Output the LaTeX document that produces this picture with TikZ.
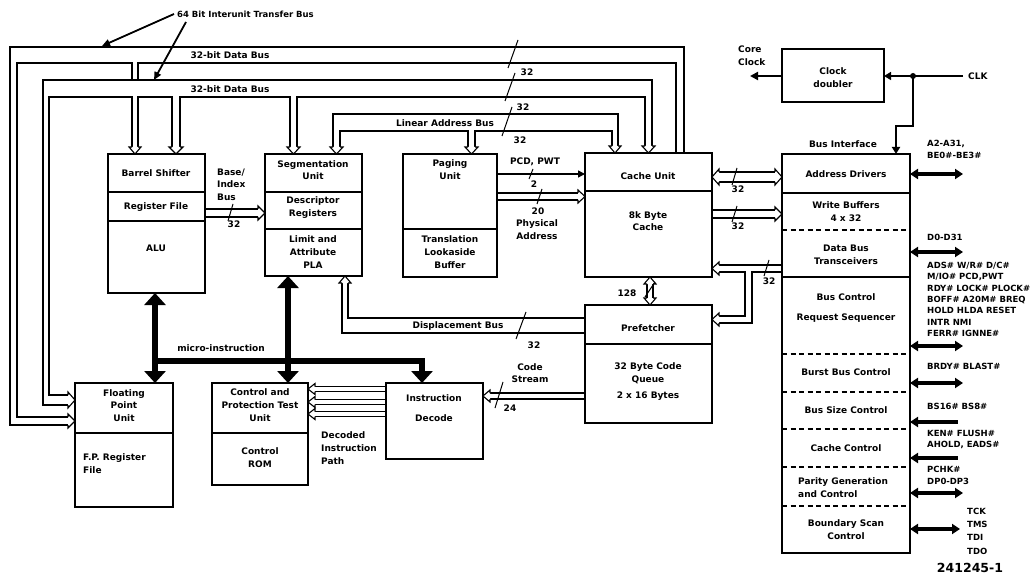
\documentclass[tikz,border=0pt]{standalone}
\usepackage{fontspec}
\setmainfont{DejaVu Sans}
\usetikzlibrary{arrows.meta}
\tikzset{
  box/.style={draw, line width=1.8pt, inner sep=0pt, outer sep=0pt, anchor=north west},
  div/.style={line width=1.6pt},
  ddiv/.style={line width=1.6pt, dash pattern=on 5pt off 3.5pt},
  lbl/.style={font=\fontsize{9}{12.7}\selectfont\bfseries, inner sep=0pt, align=center},
  lbll/.style={lbl, align=left, anchor=west},
  sig/.style={font=\fontsize{8.5}{11.3}\selectfont\bfseries, inner sep=0pt, align=left, anchor=west},
  bus/.style={line width=1.1pt},
  slashmark/.style={line width=1pt},
  sigboth/.style={line width=3.5pt, {Triangle[length=8pt,width=10pt]}-{Triangle[length=8pt,width=10pt]}},
  sigin/.style={line width=3.5pt, {Triangle[length=8pt,width=10pt]}-},
  micro/.style={line width=6pt},
  mtip/.tip={Triangle[length=12pt,width=21pt]},
  thinarrow/.style={line width=1.4pt, -{Triangle[length=7pt,width=7pt]}},
}
\newcommand\bushead[3]{%
  \draw[bus, fill=white, shift={#1}, rotate=#2] (-7,#3) -- (-7,{#3+3}) -- (0,0) -- (-7,{-#3-3}) -- (-7,-#3);
}
\begin{document}
\begin{tikzpicture}[x=1pt,y=-1pt]
\useasboundingbox (0,0) rectangle (1035,577);

% ---------- boxes ----------
\node[box, minimum width=97pt, minimum height=139pt] (bs) at (108,154) {};
\node[box, minimum width=97pt, minimum height=122pt] (seg) at (265,154) {};
\node[box, minimum width=94pt, minimum height=123pt] (pg) at (403,154) {};
\node[box, minimum width=127pt, minimum height=124pt] (cu) at (585,153) {};
\node[box, minimum width=127pt, minimum height=118pt] (pf) at (585,305) {};
\node[box, minimum width=97pt, minimum height=76pt] (id) at (386,383) {};
\node[box, minimum width=96pt, minimum height=102pt] (cp) at (212,383) {};
\node[box, minimum width=98pt, minimum height=124pt] (fp) at (75,383) {};
\node[box, minimum width=102pt, minimum height=53pt] (cd) at (782,49) {};
\node[box, minimum width=128pt, minimum height=399pt] (bi) at (782,154) {};

% dividers
\draw[div] (108,192) -- (205,192);
\draw[div] (108,221) -- (205,221);
\draw[div] (265,192) -- (362,192);
\draw[div] (265,229) -- (362,229);
\draw[div] (403,229) -- (497,229);
\draw[div] (585,191) -- (712,191);
\draw[div] (585,344) -- (712,344);
\draw[div] (212,433) -- (308,433);
\draw[div] (75,433) -- (173,433);
\draw[div] (782,193) -- (910,193);
\draw[ddiv] (782,230) -- (910,230);
\draw[div] (782,277) -- (910,277);
\draw[ddiv] (782,354) -- (910,354);
\draw[ddiv] (782,392) -- (910,392);
\draw[ddiv] (782,429) -- (910,429);
\draw[ddiv] (782,467) -- (910,467);
\draw[ddiv] (782,506) -- (910,506);

% ---------- box texts ----------
\node[lbl] (t1) at (156,173) {Barrel Shifter};
\node[lbl] (t2) at (156,207) {Register File};
\node[lbl] (t3) at (156,248) {ALU};
\node[lbl] (t4) at (313,170) {Segmentation\\Unit};
\node[lbl] (t5) at (313,207.5) {Descriptor\\Registers};
\node[lbl] (t6) at (313,252) {Limit and\\Attribute\\PLA};
\node[lbl] (t7) at (450,169.5) {Paging\\Unit};
\node[lbl] (t8) at (450,252) {Translation\\Lookaside\\Buffer};
\node[lbl] (t9) at (648,176) {Cache Unit};
\node[lbl] (t10) at (648,221) {8k Byte\\Cache};
\node[lbl] (t11) at (648,328) {Prefetcher};
\node[lbl] (t12) at (648,373.5) {32 Byte Code\\Queue};
\node[lbl] (t13) at (648,396) {2 x 16 Bytes};
\node[lbl] (t14) at (434,398) {Instruction};
\node[lbl] (t15) at (434,418) {Decode};
\node[lbl] (t16) at (260,405) {Control and\\Protection Test\\Unit};
\node[lbl] (t17) at (260,457.5) {Control\\ROM};
\node[lbl] (t18) at (124,405.5) {Floating\\Point\\Unit};
\node[lbll] (t19) at (83,463.5) {F.P. Register\\File};
\node[lbl] (t20) at (833,77.5) {Clock\\doubler};
\node[lbl] (t21) at (846,174) {Address Drivers};
\node[lbl] (t22) at (846,211.5) {Write Buffers\\4 x 32};
\node[lbl] (t23) at (846,254.5) {Data Bus\\Transceivers};
\node[lbl] (t24) at (846,297) {Bus Control};
\node[lbl] (t25) at (846,318) {Request Sequencer};
\node[lbl] (t26) at (846,372) {Burst Bus Control};
\node[lbl] (t27) at (846,410) {Bus Size Control};
\node[lbl] (t28) at (846,448) {Cache Control};
\node[lbll] (t29) at (798,487.5) {Parity Generation\\and Control};
\node[lbl] (t30) at (846,529.5) {Boundary Scan\\Control};
\node[lbl] (t31) at (843,144) {Bus Interface};

% ---------- bus A (outer 32-bit data bus) ----------
\draw[bus] (684,153) -- (684,47) -- (10,47) -- (10,425) -- (68,425);
\draw[bus] (676,153) -- (676,63) -- (138,63) -- (138,80);
\draw[bus] (132,80) -- (132,63) -- (17,63) -- (17,417) -- (68,417);
\bushead{(75,421)}{0}{4}
% ---------- bus B ----------
\draw[bus] (652,147) -- (652,80) -- (43,80) -- (43,405) -- (68,405);
\draw[bus] (645,147) -- (645,97) -- (297,97) -- (297,147);
\draw[bus] (290,147) -- (290,97) -- (180,97) -- (180,147);
\draw[bus] (172,147) -- (172,97) -- (138,97) -- (138,147);
\draw[bus] (132,147) -- (132,97) -- (49,97) -- (49,395) -- (68,395);
\bushead{(75,400)}{0}{5}
\bushead{(648.5,153)}{-90}{3.5}
\bushead{(135,154)}{-90}{3}
\bushead{(176,154)}{-90}{4}
\bushead{(293.5,154)}{-90}{3.5}
% ---------- linear address bus ----------
\draw[bus] (333,147) -- (333,114) -- (618,114) -- (618,146);
\draw[bus] (340,147) -- (340,131) -- (468,131) -- (468,147);
\draw[bus] (475,147) -- (475,131) -- (612,131) -- (612,146);
\bushead{(336.5,154)}{-90}{3.5}
\bushead{(471.5,154)}{-90}{3.5}
\bushead{(615,153)}{-90}{3}
% ---------- base/index ----------
\draw[bus] (205,209) -- (258,209);
\draw[bus] (205,217) -- (258,217);
\bushead{(265,213)}{0}{4}
% ---------- physical address ----------
\draw[bus] (497,193) -- (578,193);
\draw[bus] (497,200) -- (578,200);
\bushead{(585,196.5)}{0}{3.5}
% ---------- cache <-> bus interface ----------
\draw[bus] (719,172) -- (775,172);
\draw[bus] (719,182) -- (775,182);
\bushead{(712,177)}{180}{5}
\bushead{(782,177)}{0}{5}
\draw[bus] (712,210) -- (775,210);
\draw[bus] (712,218) -- (775,218);
\bushead{(782,214)}{0}{4}
\draw[bus] (782,265) -- (719,265);
\draw[bus] (719,272) -- (745,272) -- (745,316) -- (719,316);
\draw[bus] (719,323) -- (752,323) -- (752,272) -- (782,272);
\bushead{(712,268.5)}{180}{3.5}
\bushead{(712,319.5)}{180}{3.5}
% ---------- 128 ----------
\draw[bus] (647,284) -- (647,298);
\draw[bus] (653,284) -- (653,298);
\bushead{(650,277)}{90}{3}
\bushead{(650,305)}{-90}{3}
% ---------- displacement bus ----------
\draw[bus] (585,333) -- (342,333) -- (342,283);
\draw[bus] (585,318) -- (348,318) -- (348,283);
\bushead{(345,276)}{90}{3}
% ---------- code stream ----------
\draw[bus] (585,393) -- (490,393);
\draw[bus] (585,399) -- (490,399);
\bushead{(483,396)}{180}{3}
% ---------- decoded instruction path ----------
\foreach \yy in {389,402,414}{
  \draw[bus] (386,\yy-2.5) -- (315,\yy-2.5);
  \draw[bus] (386,\yy+2.5) -- (315,\yy+2.5);
  \bushead{(308,\yy)}{180}{2.5}
}

% ---------- slashes ----------
\draw[slashmark] (518,40) -- (508,68);
\draw[slashmark] (515,73) -- (505,101);
\draw[slashmark] (512,107) -- (502,136);
\draw[slashmark] (233,204) -- (228,221);
\draw[slashmark] (533,169) -- (529,179);
\draw[slashmark] (542,189) -- (537,204);
\draw[slashmark] (737,168) -- (732,185);
\draw[slashmark] (737,206) -- (732,222);
\draw[slashmark] (769,260) -- (764,276);
\draw[slashmark] (655,282) -- (645,297);
\draw[slashmark] (526,312) -- (516,339);
\draw[slashmark] (503,382) -- (495,408);

% ---------- bus labels ----------
\node[lbl] (l1) at (527,72) {32};
\node[lbl] (l2) at (523,107) {32};
\node[lbl] (l3) at (520,140) {32};
\node[lbl] (l4) at (234,224) {32};
\node[lbl] (l5) at (738,189) {32};
\node[lbl] (l6) at (738,226) {32};
\node[lbl] (l7) at (769,281) {32};
\node[lbl] (l8) at (534,345) {32};
\node[lbl] (l9) at (534,184) {2};
\node[lbl] (l10) at (538,211) {20};
\node[lbl] (l11) at (537,229.5) {Physical\\Address};
\node[lbl] (l12) at (535,162) {PCD, PWT};
\node[lbl] (l13) at (627,293) {128};
\node[lbl] (l14) at (510,408) {24};
\node[lbl] (l15) at (530,373) {Code\\Stream};
\node[lbl] (l16) at (458,326) {Displacement Bus};
\node[lbl] (l17) at (445,123) {Linear Address Bus};
\node[lbl] (l18) at (230,55) {32-bit Data Bus};
\node[lbl] (l19) at (230,89) {32-bit Data Bus};
\node[lbll] (l20) at (217,184.5) {Base/\\Index\\Bus};
\node[lbll] (l21) at (321,448) {Decoded\\Instruction\\Path};
\node[lbl] (l22) at (221,348) {micro-instruction};
\node[lbll, font=\fontsize{8.5}{10}\selectfont\bfseries] (l23) at (177,14) {64 Bit Interunit Transfer Bus};

% ---------- interunit arrows ----------
\draw[line width=1.8pt, -{Triangle[length=8pt,width=7pt]}] (174,14) -- (102,46);
\draw[line width=1.8pt, -{Triangle[length=8pt,width=7pt]}] (186,22) -- (154,80);

% ---------- PCD PWT ----------
\draw[thinarrow] (497,174) -- (585,174);

% ---------- micro-instruction ----------
\draw[micro, {mtip}-{mtip}] (155,293) -- (155,383);
\draw[micro, {mtip}-{mtip}] (288,276) -- (288,383);
\draw[micro, -{mtip}] (155,361) -- (422,361) -- (422,383);

% ---------- clock ----------
\draw[line width=1.5pt, -{Triangle[length=7pt,width=8pt]}] (963,76) -- (884,76);
\fill (913,76) circle (3pt);
\draw[line width=2.2pt, -{Triangle[length=7pt,width=8pt]}] (913,76) -- (913,126) -- (896,126) -- (896,154);
\draw[line width=2pt, -{Triangle[length=8pt,width=8pt]}] (782,76) -- (750,76);
\node[lbll] (c1) at (738,55.5) {Core\\Clock};
\node[lbll] (c2) at (968,76) {CLK};

% ---------- external signals ----------
\draw[sigboth] (910,174) -- (963,174);
\draw[sigboth] (910,252) -- (963,252);
\draw[sigboth] (910,346) -- (963,346);
\draw[sigboth] (910,383) -- (963,383);
\draw[sigin] (910,422) -- (958,422);
\draw[sigin] (910,458) -- (958,458);
\draw[sigboth] (910,493) -- (963,493);
\draw[sigboth] (910,529) -- (960,529);

\node[sig] (s1) at (927,149.5) {A2-A31,\\BE0\#-BE3\#};
\node[sig] (s2) at (927,237) {D0-D31};
\node[sig] (s3) at (927,299.5) {ADS\# W/R\# D/C\#\\M/IO\# PCD,PWT\\RDY\# LOCK\# PLOCK\#\\BOFF\# A20M\# BREQ\\HOLD HLDA RESET\\INTR NMI\\FERR\# IGNNE\#};
\node[sig] (s4) at (927,366) {BRDY\# BLAST\#};
\node[sig] (s5) at (927,406) {BS16\# BS8\#};
\node[sig] (s6) at (927,439.5) {KEN\# FLUSH\#\\AHOLD, EADS\#};
\node[sig] (s7) at (927,475.5) {PCHK\#\\DP0-DP3};
\node[sig, font=\fontsize{8.5}{13.3}\selectfont\bfseries] (s8) at (967,531) {TCK\\TMS\\TDI\\TDO};
\node[lbl, font=\fontsize{12.5}{14}\selectfont\bfseries] (fig) at (970,568) {241245-1};
\end{tikzpicture}
\end{document}
